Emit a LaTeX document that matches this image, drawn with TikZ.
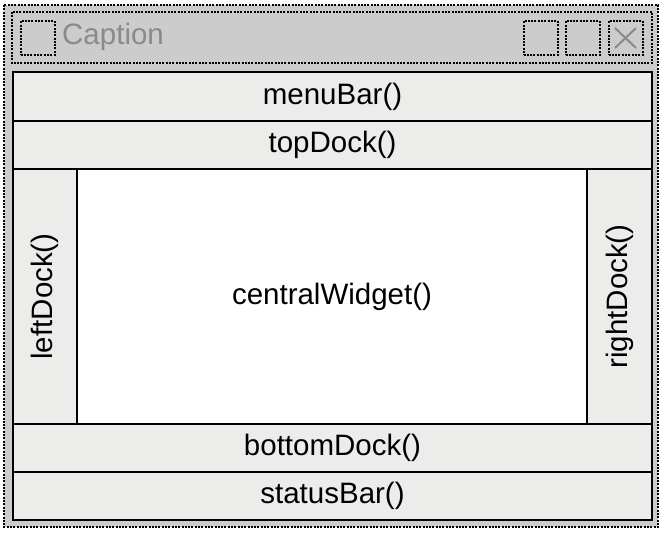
\documentclass[tikz,border=0pt]{standalone}
\usepackage{fontspec}
\setmainfont{Liberation Sans}
\begin{document}
\begin{tikzpicture}[x=1pt,y=-1pt,
  dashbox/.style={draw=black, line width=2pt, dash pattern=on 2pt off 1.3pt},
  part/.style={draw=black, line width=2.6pt, fill=dockgray},
  lbl/.style={font=\fontsize{29.5}{31}\selectfont, text=black, inner sep=0pt},
  caplbl/.style={font=\fontsize{29.5}{31}\selectfont, text=capgray, inner sep=0pt, anchor=west},
  btn/.style={dashbox, minimum width=34pt, minimum height=34pt, inner sep=0pt, fill=bggray}
]
\definecolor{bggray}{HTML}{CCCCCC}
\definecolor{dockgray}{HTML}{ECEDEB}
\definecolor{capgray}{HTML}{8A8A8A}
\useasboundingbox (0,0) rectangle (664,536);
\fill[white] (0,0) rectangle (664,536);
% outer window
\draw[dashbox, fill=bggray] (4,5) rectangle (658,527);
% title bar
\draw[dashbox, fill=bggray] (12,12) rectangle (652,63);
\node[btn] (sysbtn) at (37.5,38) {};
\node[caplbl] (caption) at (62,37) {Caption};
\node[btn] (minbtn) at (540.5,38) {};
\node[btn] (maxbtn) at (582.5,38) {};
\node[btn] (closebtn) at (625.5,38) {};
\draw[capgray, line width=2pt] (615,28) -- (636,48) (636,28) -- (615,48);
% parts
\draw[part] (13,72) rectangle (652,121);
\node[lbl] (menubar) at (332.5,96.5) {menuBar()};
\draw[part] (13,121) rectangle (652,169);
\node[lbl] (topdock) at (332.5,145) {topDock()};
\draw[part] (13,169) rectangle (77,424);
\node[lbl, rotate=90] (leftdock) at (45,296.5) {leftDock()};
\draw[part] (587,169) rectangle (652,424);
\node[lbl, rotate=90] (rightdock) at (619.5,296.5) {rightDock()};
\draw[part, fill=white] (77,169) rectangle (587,424);
\node[lbl] (central) at (332,296.5) {centralWidget()};
\draw[part] (13,424) rectangle (652,472);
\node[lbl] (bottomdock) at (332.5,448) {bottomDock()};
\draw[part] (13,472) rectangle (652,520);
\node[lbl] (statusbar) at (332.5,496) {statusBar()};
\end{tikzpicture}
\end{document}
